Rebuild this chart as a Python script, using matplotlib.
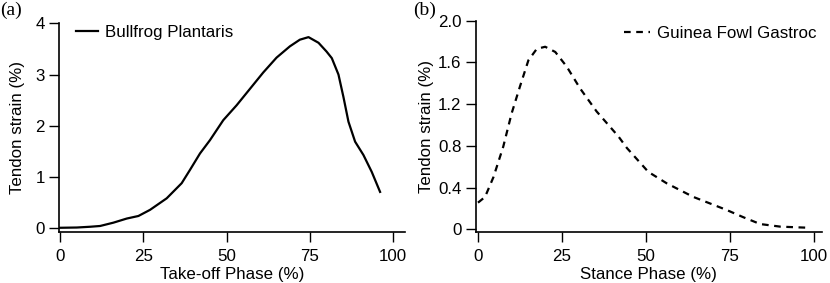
import matplotlib
matplotlib.use("Agg")
import matplotlib.pyplot as plt
from matplotlib.ticker import FuncFormatter

plt.rcParams['font.family'] = ['Liberation Sans', 'DejaVu Sans']

# Bullfrog plantaris, take-off phase (%) vs tendon strain (%)
frog_phase = [0, 5, 9, 12, 16, 20, 23.5, 27, 32, 36.5, 39, 42, 45, 49, 53,
              57, 61, 65, 69, 72, 74.6, 77.6, 80, 81.6, 83.6, 85.1, 86.6,
              88.6, 91.1, 93.6, 96.1]
frog_strain = [0.01, 0.015, 0.03, 0.045, 0.11, 0.19, 0.24, 0.36, 0.585, 0.88,
               1.14, 1.46, 1.72, 2.11, 2.40, 2.72, 3.04, 3.33, 3.55, 3.68,
               3.73, 3.62, 3.45, 3.32, 3.0, 2.56, 2.08, 1.69, 1.43, 1.10, 0.71]

# Guinea fowl gastrocnemius, stance phase (%) vs tendon strain (%)
fowl_phase = [0, 2.1, 4.6, 7.5, 10, 12.5, 15, 17.5, 20, 23, 26.4, 30.4, 35.3,
              41.8, 44.3, 50.7, 56.2, 64.1, 74, 79, 84, 90, 98]
fowl_strain = [0.255, 0.31, 0.50, 0.79, 1.11, 1.37, 1.62, 1.73, 1.75, 1.70,
               1.56, 1.35, 1.13, 0.89, 0.78, 0.55, 0.44, 0.31, 0.185, 0.115,
               0.05, 0.025, 0.015]

a_xticks = [0, 25, 50, 75, 100]
a_yticks = [0, 1, 2, 3, 4]
b_xticks = [0, 25, 50, 75, 100]
b_yticks = [0, 0.4, 0.8, 1.2, 1.6, 2.0]

fig = plt.figure(figsize=(8.3, 2.83), dpi=100)
ax1 = fig.add_axes([0.0705, 0.1792, 0.4175, 0.7385])
ax2 = fig.add_axes([0.5729, 0.1792, 0.4171, 0.7477])

fs = 12.2

def style(ax):
    for s in ['top', 'right']:
        ax.spines[s].set_visible(False)
    for s in ['left', 'bottom']:
        ax.spines[s].set_linewidth(1.2)
    ax.tick_params(direction='out', length=7, width=1.0, labelsize=fs)
    ax.tick_params(axis='x', pad=5)
    ax.tick_params(axis='y', pad=3)

ax1.plot(frog_phase, frog_strain, color='black', lw=1.6, label='Bullfrog Plantaris',
         solid_joinstyle='round')
ax1.set_xlim(-0.5, 103.6)
ax1.set_ylim(-0.078, 4)
ax1.set_xticks(a_xticks)
ax1.set_yticks(a_yticks)
ax1.set_xlabel('Take-off Phase (%)', fontsize=fs, labelpad=2)
ax1.set_ylabel('Tendon strain (%)', fontsize=fs, labelpad=7)
style(ax1)
ax1.legend(loc='center left', bbox_to_anchor=(0.0505, 0.958), frameon=False,
           fontsize=fs, handlelength=1.3, handletextpad=0.4, borderpad=0,
           borderaxespad=0)

ax2.plot(fowl_phase, fowl_strain, color='black', lw=1.6, dashes=(3, 2.5),
         label='Guinea Fowl Gastroc')
ax2.set_xlim(-0.74, 102.3)
ax2.set_ylim(-0.029, 2.0)
ax2.set_xticks(b_xticks)
ax2.set_yticks(b_yticks)
ax2.yaxis.set_major_formatter(FuncFormatter(lambda v, p: '0' if v == 0 else f'{v:.1f}'))
ax2.set_xlabel('Stance Phase (%)', fontsize=fs, labelpad=2)
ax2.set_ylabel('Tendon strain (%)', fontsize=fs, labelpad=3)
style(ax2)
ax2.legend(loc='center left', bbox_to_anchor=(0.43, 0.940), frameon=False,
           fontsize=fs, handlelength=1.5, handletextpad=0.4, borderpad=0,
           borderaxespad=0)

fig.text(0.0, 0.995, '(a)', family='Liberation Serif', fontsize=14, va='top', ha='left')
fig.text(0.4975, 0.995, '(b)', family='Liberation Serif', fontsize=14, va='top', ha='left')

fig.savefig('out.png', dpi=100)
